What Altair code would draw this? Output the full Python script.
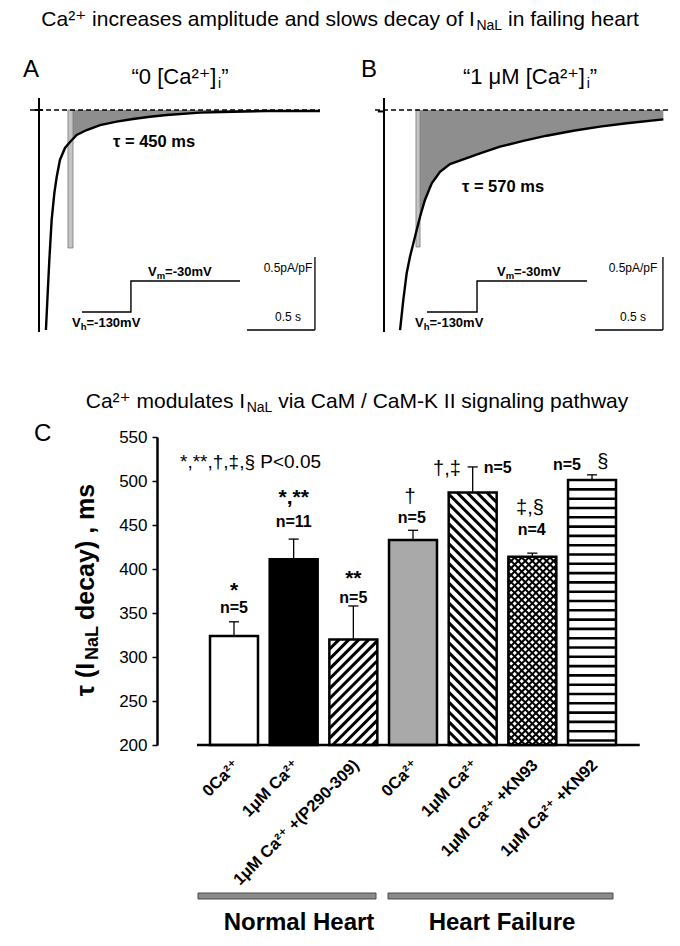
import math
import altair as alt
import pandas as pd

FONT = "Liberation Sans, Arial, Helvetica, DejaVu Sans, sans-serif"

# ---------------- data ----------------
# Panel A ("0 [Ca2+]i") late Na current trace: time (s), current (pA/pF)
trace_a_t = [0.051, 0.064, 0.076, 0.093, 0.113, 0.130, 0.154, 0.191, 0.228, 0.277,
             0.351, 0.449, 0.571, 0.691, 0.816, 0.939, 1.184, 1.426, 1.674, 2.066]
trace_a_i = [-1.507, -1.253, -1.027, -0.753, -0.568, -0.459, -0.342, -0.260, -0.219, -0.171,
             -0.137, -0.103, -0.080, -0.062, -0.046, -0.034, -0.018, -0.012, -0.007, -0.007]
# Panel B ("1 uM [Ca2+]i") trace
trace_b_t = [0.118, 0.142, 0.167, 0.191, 0.228, 0.265, 0.301, 0.351, 0.412, 0.485,
             0.583, 0.706, 0.853, 1.024, 1.196, 1.392, 1.588, 1.785, 2.054]
trace_b_i = [-1.507, -1.301, -1.116, -1.005, -0.868, -0.731, -0.616, -0.502, -0.423, -0.370,
             -0.338, -0.297, -0.251, -0.212, -0.176, -0.142, -0.114, -0.091, -0.064]
# voltage protocol schematic (drawn in current units)
step_a_t = [0.316, 0.676, 0.676, 1.478]
step_b_t = [0.316, 0.684, 0.684, 1.493]
step_level = [-1.384, -1.384, -1.171, -1.171]
tau_labels = ["τ = 450 ms", "τ = 570 ms"]

# Panel C bar chart
categories = ["0Ca²⁺", "1μM Ca²⁺", "1μM Ca²⁺ +(P290-309)", "0Ca²⁺",
              "1μM Ca²⁺", "1μM Ca²⁺ +KN93", "1μM Ca²⁺ +KN92"]
tau_mean = [324, 411, 320, 433, 487, 414, 501]
tau_sem = [16, 23, 38, 11, 29, 4, 6]
n_labels = ["n=5", "n=11", "n=5", "n=5", "n=5", "n=4", "n=5"]
sig_labels = ["*", "*,**", "**", "†", "†,‡", "‡,§", "§"]
group_names = ["Normal Heart", "Heart Failure"]
y_ticks = [200, 250, 300, 350, 400, 450, 500, 550]

# ---------------- styling / layout ----------------
bar_fill = ["white", "black", "white", "#a9a9a9", "white", "white", "white"]
bar_hatch = [None, None, "/", None, "\\", "x", "-"]
HALF = 0.402          # half bar width in slot units
PXS, PXM = 59.67, 0.88  # px per slot / px per ms (used for isotropic hatching)

# scales (view = page - (157, 8))
sxA = alt.Scale(domain=[0, 2], range=[-118, 154], nice=False, zero=False)
sxB = alt.Scale(domain=[0, 2], range=[227, 499], nice=False, zero=False)
syAB = alt.Scale(domain=[-1.5, 0], range=[321, 102], nice=False, zero=False)
sxC = alt.Scale(domain=[-1, 7], range=[17.33, 494.69], nice=False, zero=False)
syC = alt.Scale(domain=[200, 550], range=[737, 429], nice=False, zero=False)

c_axis = alt.Axis(values=y_ticks, title=None, grid=False, tickSize=5, tickWidth=1.5,
                  tickColor="black", domainColor="black", domainWidth=2.5,
                  labelFont=FONT, labelFontSize=17, labelColor="black",
                  labelPadding=5)

# text width helper (Arial metrics)
_UP_R = dict(zip("ABCDEFGHIJKLMNOPQRSTUVWXYZ", [667, 667, 722, 722, 667, 611, 778, 722, 278, 500, 667, 556, 833, 722, 778, 667, 778, 722, 667, 611, 722, 667, 944, 667, 667, 611]))
_LO_R = dict(zip("abcdefghijklmnopqrstuvwxyz", [556, 556, 500, 556, 556, 278, 556, 556, 222, 222, 500, 222, 833, 556, 556, 556, 556, 333, 500, 278, 556, 500, 722, 500, 500, 500]))
_UP_B = dict(zip("ABCDEFGHIJKLMNOPQRSTUVWXYZ", [722, 722, 722, 722, 667, 611, 778, 722, 278, 556, 722, 611, 833, 722, 778, 667, 778, 722, 667, 611, 722, 667, 944, 667, 667, 611]))
_LO_B = dict(zip("abcdefghijklmnopqrstuvwxyz", [556, 611, 556, 611, 556, 333, 611, 611, 278, 278, 556, 278, 889, 611, 611, 611, 611, 389, 556, 333, 611, 556, 778, 556, 556, 500]))
_SYM = {" ": 278, ".": 278, ",": 278, "-": 333, "/": 278, "(": 333, ")": 333, "[": 278, "]": 278,
        "=": 584, "+": 584, "<": 584, "*": 389, "§": 556, "†": 556, "‡": 556, "“": 333, "”": 333,
        "²": 333, "⁺": 380, "τ": 520, "μ": 577}


def tw(s, size, bold=False):
    up, lo = (_UP_B, _LO_B) if bold else (_UP_R, _LO_R)
    tot = 0
    for ch in s:
        if ch.isdigit():
            tot += 556
        else:
            tot += up.get(ch, lo.get(ch, _SYM.get(ch, 556)))
    return tot * size / 1000.0


def rich(pieces, x_px, y_px, anchor="center", bold=False):
    widths = [tw(t, s, bold) for t, s, dy in pieces]
    start = x_px - sum(widths) / 2 if anchor == "center" else x_px
    rows, cur = [], start
    for (t, s, dy), w in zip(pieces, widths):
        lead = len(t) - len(t.lstrip())
        rows.append((cur + tw(" " * lead, s, bold), y_px + dy, t.strip(), s))
        cur += w
    return rows


# page px -> data helpers
def tA(px): return (px - 39) / 136.0
def tB(px): return (px - 384) / 136.0
def cur(py): return (110 - py) / 146.0
def slot(px): return (px - 234) / 59.67
def ms(py): return 200 + (745 - py) / 0.88


def text_layer(rows, sx, sy, yaxis=None, **kw):
    df = pd.DataFrame(rows, columns=["x", "y", "label", "fs"])
    return alt.Chart(df).mark_text(font=FONT, color="black", **kw).encode(
        x=alt.X("x:Q", scale=sx, axis=None),
        y=alt.Y("y:Q", scale=sy, axis=yaxis),
        text="label:N",
        size=alt.Size("fs:Q", scale=None, legend=None),
    )


def rule_layer(rows, sx, sy, yaxis=None, **kw):
    df = pd.DataFrame(rows)
    enc = dict(x=alt.X("x:Q", scale=sx, axis=None), y=alt.Y("y:Q", scale=sy, axis=yaxis))
    if "x2" in df:
        enc["x2"] = "x2:Q"
    if "y2" in df:
        enc["y2"] = "y2:Q"
    return alt.Chart(df).mark_rule(color="black", **kw).encode(**enc)


def trace_panel(sx, tt, ii, conv, shade0, strip, depth, step_t, tau, tau_xy,
                title_pieces, title_cx, letter, letter_cx, vm_x, vh_x, bar_t, dash_end, blip, extra=()):
    X = lambda f: alt.X(f, scale=sx, axis=None)
    Y = lambda f: alt.Y(f, scale=syAB, axis=None)
    df = pd.DataFrame({"t": tt, "i": ii, "k": list(range(len(tt)))})
    layers = []
    layers.append(alt.Chart(df[df.t >= shade0]).mark_area(color="#8e8e8e").encode(
        x=X("t:Q"), y=Y("i:Q"), y2=alt.datum(0)))
    layers.append(alt.Chart(pd.DataFrame({"t0": [strip[0]], "t1": [strip[1]], "i0": [0], "i1": [depth]}))
                  .mark_rect(fill="#c4c4c4", stroke="#7a7a7a", strokeWidth=0.8).encode(
        x=X("t0:Q"), x2="t1:Q", y=Y("i0:Q"), y2="i1:Q"))
    layers.append(rule_layer([{"x": -0.066, "x2": dash_end, "y": 0}], sx, syAB,
                             strokeDash=[5, 3], strokeWidth=1.3))
    layers.append(alt.Chart(df).mark_line(color="black", strokeWidth=2.4).encode(
        x=X("t:Q"), y=Y("i:Q"), order="k:Q"))
    layers.append(rule_layer([{"x": 0, "y": 0.082, "y2": -1.52},
                              {"x": blip[0], "x2": blip[1], "y": blip[2]}], sx, syAB, strokeWidth=2))
    sdf = pd.DataFrame({"t": step_t, "v": step_level, "k": [0, 1, 2, 3]})
    layers.append(alt.Chart(sdf).mark_line(color="black", strokeWidth=1.4).encode(
        x=X("t:Q"), y=Y("v:Q"), order="k:Q"))
    layers.append(rule_layer([{"x": bar_t - 0.5, "x2": bar_t, "y": -1.507},
                              {"x": bar_t, "y": -1.007, "y2": -1.507}], sx, syAB, strokeWidth=1.3))
    # texts
    layers.append(text_layer([(tau_xy[0], tau_xy[1], tau, 16.5)], sx, syAB,
                             align="center", baseline="middle", fontWeight="bold"))
    vrows = rich([("V", 13, 0), ("m", 9.5, 4), ("=-30mV", 13, 0)], vm_x, 272, "left", True)
    vrows += rich([("V", 13, 0), ("h", 9.5, 4), ("=-130mV", 13, 0)], vh_x, 323, "left", True)
    layers.append(text_layer([(conv(x), cur(y), s, f) for x, y, s, f in vrows], sx, syAB,
                             align="left", baseline="middle", fontWeight="bold"))
    layers.append(text_layer([(1.831, cur(268), "0.5pA/pF", 12), (1.831, cur(317), "0.5 s", 12)],
                             sx, syAB, align="center", baseline="middle"))
    trows = rich(title_pieces, title_cx, 77, "center")
    trows = [(conv(x), cur(y), s, f) for x, y, s, f in trows]
    trows.append((conv(letter_cx), cur(70), letter, 24))
    layers.append(text_layer(trows, sx, syAB, align="left", baseline="middle"))
    layers.extend(extra)
    return alt.layer(*layers)


# main figure title (placed in panel A coordinates)
main_rows = rich([("Ca²⁺ increases amplitude and slows decay of I", 21, 0), ("NaL", 14, 6),
                  (" in failing heart", 21, 0)], 340, 20, "center")
main_title = text_layer([(tA(x), cur(y), s, f) for x, y, s, f in main_rows], sxA, syAB,
                        align="left", baseline="middle")

panelA = trace_panel(sxA, trace_a_t, trace_a_i, tA, 0.228, (0.213, 0.250), -0.945, step_a_t,
                     tau_labels[0], (0.846, -0.219),
                     [("“0 [Ca²⁺]", 22, 0), ("i", 14, 7), ("”", 22, 0)], 180, "A", 23,
                     148, 72, 2.029, 2.066, (-0.03, 0.03, 0.0), extra=[main_title])
panelB = trace_panel(sxB, trace_b_t, trace_b_i, tB, 0.265, (0.235, 0.265), -0.938, step_b_t,
                     tau_labels[1], (0.875, -0.527),
                     [("“1 μM [Ca²⁺]", 22, 0), ("i", 14, 7), ("”", 22, 0)], 530, "B", 361,
                     497, 415, 2.051, 2.088, (-0.045, -0.005, -0.01))

# ---------------- panel C ----------------
CX = lambda f: alt.X(f, scale=sxC, axis=None)
CY = lambda f: alt.Y(f, scale=syC, axis=c_axis)

bdf = pd.DataFrame({"x0": [i - HALF for i in range(7)], "x1": [i + HALF for i in range(7)],
                    "base": [200] * 7, "top": tau_mean, "fill": bar_fill})


def clip_seg(p, d, x0, x1, y0, y1):
    smin, smax = -1e9, 1e9
    for pc, dc, lo, hi in ((p[0], d[0], x0, x1), (p[1], d[1], y0, y1)):
        if abs(dc) < 1e-12:
            if pc < lo or pc > hi:
                return None
        else:
            s1, s2 = (lo - pc) / dc, (hi - pc) / dc
            if s1 > s2:
                s1, s2 = s2, s1
            smin, smax = max(smin, s1), min(smax, s2)
    if smin >= smax:
        return None
    return (p[0] + smin * d[0], p[1] + smin * d[1], p[0] + smax * d[0], p[1] + smax * d[1])


hatch_rows = []
hatch_spec = {"/": ([(1, 1)], 7.0, 3.0), "\\": ([(1, -1)], 7.0, 3.0),
              "x": ([(1, 1), (1, -1)], 5.0, 2.0), "-": ([(1, 0)], 9.3, 2.6)}
for i, (h, top) in enumerate(zip(bar_hatch, tau_mean)):
    if h is None:
        continue
    dirs, period, width = hatch_spec[h]
    x0, x1, y0, y1 = (i - HALF) * PXS, (i + HALF) * PXS, 200 * PXM, top * PXM
    for dx, dy in dirs:
        L = math.hypot(dx, dy)
        dx, dy = dx / L, dy / L
        nx, ny = -dy, dx
        projs = [cx * nx + cy * ny for cx in (x0, x1) for cy in (y0, y1)]
        c = max(projs) - period
        while c > min(projs):
            seg = clip_seg((c * nx, c * ny), (dx, dy), x0, x1, y0, y1)
            if seg:
                hatch_rows.append({"x": seg[0] / PXS, "y": seg[1] / PXM, "x2": seg[2] / PXS,
                                   "y2": seg[3] / PXM, "w": width})
            c -= period

layersC = []
layersC.append(alt.Chart(bdf).mark_rect().encode(
    x=CX("x0:Q"), x2="x1:Q", y=CY("base:Q"), y2="top:Q", color=alt.Color("fill:N", scale=None)))
layersC.append(alt.Chart(pd.DataFrame(hatch_rows)).mark_rule(color="black", strokeCap="butt").encode(
    x=CX("x:Q"), x2="x2:Q", y=CY("y:Q"), y2="y2:Q", strokeWidth=alt.StrokeWidth("w:Q", scale=None)))
layersC.append(alt.Chart(bdf).mark_rect(fillOpacity=0, stroke="black", strokeWidth=2.5).encode(
    x=CX("x0:Q"), x2="x1:Q", y=CY("base:Q"), y2="top:Q"))
err_rows = []
for i, (m, s) in enumerate(zip(tau_mean, tau_sem)):
    err_rows.append({"x": i, "y": m, "y2": m + s})
layersC.append(rule_layer(err_rows, sxC, syC, c_axis, strokeWidth=1.3))
cap_rows = [{"x": i - 0.085, "x2": i + 0.085, "y": m + s} for i, (m, s) in enumerate(zip(tau_mean, tau_sem))]
layersC.append(rule_layer(cap_rows, sxC, syC, c_axis, strokeWidth=1.3))
layersC.append(rule_layer([{"x": -0.62, "x2": 6.80, "y": 200}], sxC, syC, c_axis, strokeWidth=2.6))
# group bars
gdf = pd.DataFrame({"x0": [slot(198), slot(388)], "x1": [slot(376), slot(613)],
                    "y0": [ms(893), ms(893)], "y1": [ms(899), ms(899)]})
layersC.append(alt.Chart(gdf).mark_rect(fill="#8a8a8a", stroke="#4a4a4a", strokeWidth=1).encode(
    x=CX("x0:Q"), x2="x1:Q", y=CY("y0:Q"), y2="y1:Q"))
layersC.append(text_layer([(slot(299), ms(923), group_names[0], 24),
                           (slot(502), ms(923), group_names[1], 24)], sxC, syC, c_axis,
                          align="center", baseline="middle", fontWeight="bold"))
# category labels
layersC.append(text_layer([(i + 0.05, 180, c, 16.5) for i, c in enumerate(categories)], sxC, syC, c_axis,
                          align="right", baseline="middle", angle=315, fontWeight="bold"))
# n labels and significance
n_pos = [(0, 355.7), (1, 453.4), (2, 367), (2.98, 458), (4.42, 514.8), (4.99, 444.3), (5.58, 518.2)]
layersC.append(text_layer([(x, y, n, 16) for (x, y), n in zip(n_pos, n_labels)], sxC, syC, c_axis,
                          align="center", baseline="middle", fontWeight="bold"))
sig_pos = [(0, 375.5), (1.0, 481.0), (2.0, 389.0), (2.95, 481.8), (3.57, 513.6), (4.96, 469.3), (6.18, 521.6)]
bold_sig = [(x, y, s, 21) for (x, y), s in zip(sig_pos, sig_labels) if "*" in s]
reg_sig = [(x, y, s, 20) for (x, y), s in zip(sig_pos, sig_labels) if "*" not in s]
layersC.append(text_layer(bold_sig, sxC, syC, c_axis, align="center", baseline="middle", fontWeight="bold"))
layersC.append(text_layer(reg_sig, sxC, syC, c_axis, align="center", baseline="middle"))
# legend note, panel letter, title
crow = rich([("Ca²⁺ modulates I", 21, 0), ("NaL", 14, 6), (" via CaM / CaM-K II signaling pathway", 21, 0)],
            357, 402, "center")
crow = [(slot(x), ms(y), s, f) for x, y, s, f in crow]
crow.append((slot(180), ms(462), "*,**,†,‡,§ P<0.05", 19))
crow.append((slot(34), ms(434), "C", 24))
layersC.append(text_layer(crow, sxC, syC, c_axis, align="left", baseline="middle"))
# rotated y-axis title with subscript
vp = [("τ (I", 25), ("NaL", 18), ("decay) , ms", 25)]
w1, w2, w3 = (tw(t, s, True) for t, s in vp)
gap = tw(" ", 25, True)
Ltot = w1 + w2 + gap + w3
ybot = 590 + Ltot / 2
yrows = [(slot(86), ms(ybot), vp[0][0], 25), (slot(93), ms(ybot - w1 - 1), vp[1][0], 18),
         (slot(86), ms(ybot - w1 - w2 - gap), vp[2][0], 25)]
layersC.append(text_layer(yrows, sxC, syC, c_axis, align="left", baseline="middle", angle=270,
                          fontWeight="bold"))
panelC = alt.layer(*layersC)

chart = (alt.layer(panelA, panelB, panelC)
         .resolve_scale(x="independent", y="independent")
         .properties(width=515, height=930, background="white",
                     autosize=alt.AutoSizeParams(type="none"),
                     padding={"left": 149, "top": 0, "right": 0, "bottom": 0})
         .configure_view(stroke=None))

chart.save("out.html", embed_options={"renderer": "svg", "actions": False})
